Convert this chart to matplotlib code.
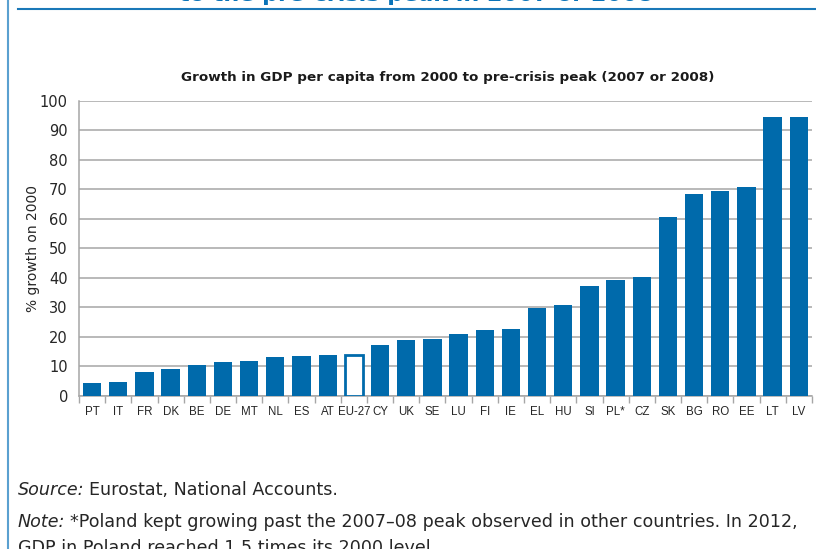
import matplotlib.pyplot as plt
import numpy as np

# values
countries = ['PT', 'IT', 'FR', 'DK', 'BE', 'DE', 'MT', 'NL', 'ES', 'AT', 'EU-27',
             'CY', 'UK', 'SE', 'LU', 'FI', 'IE', 'EL', 'HU', 'SI', 'PL*', 'CZ',
             'SK', 'BG', 'RO', 'EE', 'LT', 'LV']
growth = [4.4, 4.7, 8.1, 9.1, 10.5, 11.5, 11.9, 13.1, 13.5, 13.8, 13.8,
          17.3, 18.9, 19.2, 20.9, 22.2, 22.6, 29.9, 30.8, 37.2, 39.3, 40.3,
          60.6, 68.4, 69.4, 70.8, 94.5, 94.5]
yticks = [0, 10, 20, 30, 40, 50, 60, 70, 80, 90, 100]

blue = '#006aab'
txt = '#262626'

fig = plt.figure(figsize=(8.16, 5.49), dpi=100)
ax = fig.add_axes([0.0968, 0.2787, 0.8982, 0.5379])

x = np.arange(len(countries))
eu = countries.index('EU-27')
colors = [blue if c != 'EU-27' else 'white' for c in countries]
bars = ax.bar(x, growth, width=0.7, color=colors, zorder=3)
bars[eu].set_edgecolor(blue)
bars[eu].set_linewidth(2)

ax.set_xlim(-0.5, len(countries) - 0.5)
ax.set_ylim(0, 100)
ax.set_yticks(yticks)
ax.yaxis.grid(True, color='#a6a6a6', lw=1.1, zorder=0)
ax.tick_params(axis='y', length=0, labelsize=10.5, labelcolor=txt, pad=8)

ax.set_xticks(x)
ax.set_xticklabels(countries, fontsize=8.3, color=txt, family='Liberation Sans')
ax.tick_params(axis='x', which='major', length=0, pad=7)
ax.set_xticks(np.arange(-0.5, len(countries), 1), minor=True)
ax.tick_params(axis='x', which='minor', length=5, color='#a6a6a6', width=1)

for s in ['top', 'right']:
    ax.spines[s].set_visible(False)
for s in ['left', 'bottom']:
    ax.spines[s].set_color('#a6a6a6')
    ax.spines[s].set_linewidth(1.1)

ax.set_ylabel('% growth on 2000', fontsize=10, color=txt, labelpad=0)

fig.text(0.549, 0.859, 'Growth in GDP per capita from 2000 to pre-crisis peak (2007 or 2008)',
         ha='center', va='center', fontsize=9.7, fontweight='bold', color='#1a1a1a')

# box / page decoration
fig.text(0.51, 1.01, 'to the pre-crisis peak in 2007 or 2008', ha='center', va='center',
         fontsize=16, fontweight='bold', color='#0a73b8')
fig.add_artist(plt.Line2D([0.022, 1.0], [0.984, 0.984], color='#1a78b8', lw=1.5,
                          transform=fig.transFigure))
fig.add_artist(plt.Line2D([0.0098, 0.0098], [0.0, 1.0], color='#5aa0d0', lw=1.5,
                          transform=fig.transFigure))

renderer = fig.canvas.get_renderer()


def label_line(y, head, rest, size=12.6):
    t = fig.text(0.022, y, head, fontsize=size, color=txt, va='center', style='italic')
    bb = t.get_window_extent(renderer)
    fig.text(bb.x1 / fig.bbox.width + 0.006, y, rest, fontsize=size, color=txt, va='center')


label_line(0.107, 'Source:', 'Eurostat, National Accounts.')
label_line(0.049, 'Note:', '*Poland kept growing past the 2007\u201308 peak observed in other countries. In 2012,')
fig.text(0.022, 0.002, 'GDP in Poland reached 1.5 times its 2000 level.',
         fontsize=12.6, color=txt, va='center')

fig.savefig('out.png', dpi=100)
